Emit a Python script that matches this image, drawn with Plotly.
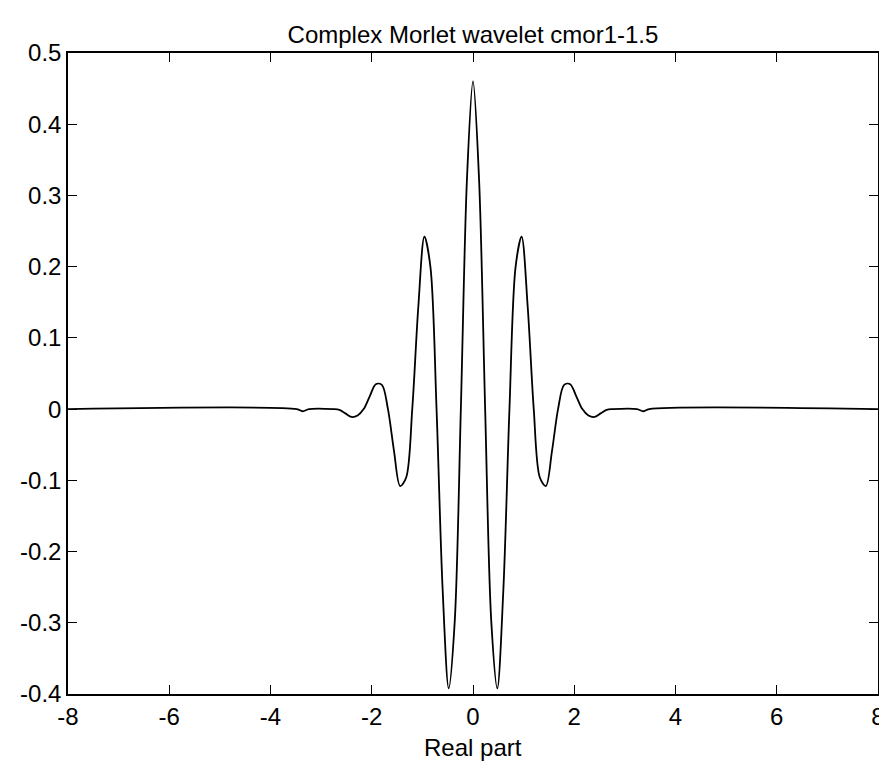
import plotly.graph_objects as go

# Curve samples (x, real part)
x_right = [0.0, 0.12, 0.24, 0.36, 0.48, 0.60, 0.72, 0.84, 0.96, 1.08, 1.20, 1.32,
           1.44, 1.56, 1.68, 1.80, 1.92, 2.04, 2.16, 2.28, 2.40, 2.52, 2.64, 2.76,
           3.24, 3.36, 3.48, 8.0]
y_right = [0.460, 0.322, 0.0, -0.297, -0.392, -0.253, 0.0, 0.199, 0.242, 0.144, 0.0, -0.096,
           -0.108, -0.059, 0.0, 0.034, 0.035, 0.018, 0.0, -0.009, -0.011, -0.006, -0.001, 0.0,
           0.0, -0.003, 0.0, 0.0]

x_vals = [-v for v in x_right[::-1]] + x_right[1:]
y_vals = y_right[::-1] + y_right[1:]

x_ticks = [-8, -6, -4, -2, 0, 2, 4, 6, 8]
x_tick_text = ["-8", "-6", "-4", "-2", "0", "2", "4", "6", "8"]
y_ticks = [0.5, 0.4, 0.3, 0.2, 0.1, 0.0, -0.1, -0.2, -0.3, -0.4]
y_tick_text = ["0.5", "0.4", "0.3", "0.2", "0.1", "0", "-0.1", "-0.2", "-0.3", "-0.4"]

title_text = "Complex Morlet wavelet cmor1-1.5"
x_label = "Real part"

FONT = "Liberation Sans Narrow, Arial Narrow, Liberation Sans, Arial, sans-serif"

fig = go.Figure()
fig.add_trace(go.Scatter(
    x=x_vals, y=y_vals, mode="lines",
    line=dict(color="black", width=1.8, shape="spline", smoothing=0.9),
    hoverinfo="skip", showlegend=False,
))

axis_common = dict(
    showgrid=False, zeroline=False, showline=True, linecolor="black", linewidth=1.5,
    mirror="ticks", ticks="inside", ticklen=9, tickwidth=1.2, tickcolor="black",
    tickfont=dict(family=FONT, size=24, color="black"),
)

fig.update_layout(
    width=887, height=761,
    margin=dict(l=60, r=10, t=45, b=75),
    paper_bgcolor="white", plot_bgcolor="white",
    title=dict(text=title_text, x=0.5, xref="paper", xanchor="center",
               y=1 - 27 / 761, yref="container", yanchor="middle",
               font=dict(family=FONT, size=24, color="black")),
    xaxis=dict(range=[-8, 8], tickvals=x_ticks, ticktext=x_tick_text, **axis_common),
    yaxis=dict(range=[-0.4, 0.5], tickvals=y_ticks, ticktext=y_tick_text, **axis_common),
    annotations=[dict(text=x_label, xref="paper", yref="paper", x=0.5, y=-53 / 641,
                      xanchor="center", yanchor="middle", showarrow=False,
                      font=dict(family=FONT, size=24, color="black"))],
)

fig.write_html("out.html")
